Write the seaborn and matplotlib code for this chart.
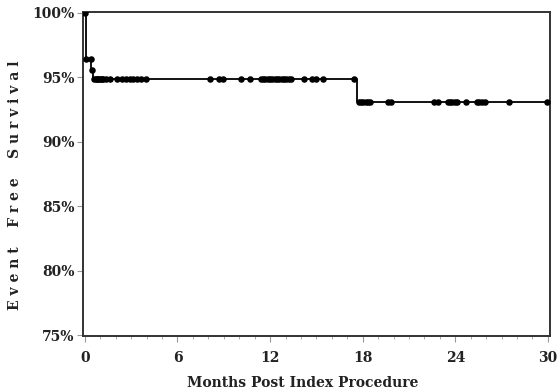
import numpy as np
import pandas as pd
import matplotlib
matplotlib.use("Agg")
import matplotlib.pyplot as plt
import seaborn as sns
from matplotlib.ticker import MultipleLocator, FuncFormatter

# Kaplan-Meier step curve (months, % event free)
step_times = [0.0, 0.05, 0.42, 0.55, 17.6, 30.0]
step_surv = [100.0, 96.4, 95.6, 94.9, 93.1, 93.1]

# Censored observations (months)
censor_times = [0.0, 0.05, 0.38, 0.48, 0.62, 0.7, 0.78, 0.86, 0.94, 1.02, 1.1,
                1.2, 1.35, 1.6, 2.1, 2.4, 2.65, 2.9, 3.15, 3.4, 3.65, 3.95,
                8.1, 8.7, 8.95, 10.1, 10.7, 11.4, 11.55, 11.7, 11.85, 12.0,
                12.15, 12.3, 12.45, 12.6, 12.75, 12.9, 13.05, 13.2, 13.35,
                14.2, 14.7, 14.95, 15.4, 17.45, 17.75, 17.9, 18.05, 18.2,
                18.35, 18.5, 19.65, 19.85, 22.6, 22.9, 23.5, 23.65, 23.8,
                23.95, 24.1, 24.7, 25.4, 25.55, 25.75, 25.9, 27.5, 29.95]

x_ticks = [0, 6, 12, 18, 24, 30]
y_ticks = [75, 80, 85, 90, 95, 100]

curve = pd.DataFrame({"t": step_times, "s": step_surv})
idx = np.searchsorted(step_times, censor_times, side="right") - 1
cens = pd.DataFrame({"t": censor_times, "s": np.array(step_surv)[idx]})

sns.set_style("ticks")
plt.rcParams["font.family"] = ["DejaVu Serif"]

fig = plt.figure(figsize=(5.59, 3.92), dpi=100)
ax = fig.add_axes([0.1485, 0.143, 0.835, 0.826])

sns.lineplot(data=curve, x="t", y="s", drawstyle="steps-post", color="black",
             lw=1.3, ax=ax, estimator=None)
sns.scatterplot(data=cens, x="t", y="s", color="black", s=22, marker="o",
                edgecolor="black", linewidth=0, ax=ax, zorder=3)

ax.set_xlim(-0.12, 30.12)
ax.set_ylim(74.95, 100.05)
ax.set_xticks(x_ticks)
ax.set_yticks(y_ticks)
ax.xaxis.set_minor_locator(MultipleLocator(1))
ax.yaxis.set_major_formatter(FuncFormatter(lambda v, p: f"{int(v)}%"))

for side in ["top", "right", "bottom", "left"]:
    ax.spines[side].set_visible(True)
    ax.spines[side].set_color("#333333")
    ax.spines[side].set_linewidth(1.4)

ax.tick_params(axis="y", which="major", length=4, width=0.8, color="#999999",
               labelsize=10, pad=2)
ax.tick_params(axis="x", which="major", length=4, width=0.8, color="#999999",
               labelsize=10, pad=7)
ax.tick_params(axis="x", which="minor", length=2.5, width=0.7, color="#aaaaaa")
for lab in ax.get_xticklabels() + ax.get_yticklabels():
    lab.set_fontweight("bold")
    lab.set_color("#222222")

ax.set_xlabel("Months Post Index Procedure", fontsize=10, fontweight="bold",
              color="#222222")
ax.xaxis.set_label_coords(0.47, -0.125)
ax.set_ylabel("E v e n t    F r e e    S u r v i v a l", fontsize=10,
              fontweight="bold", color="#222222")
ax.yaxis.set_label_coords(-0.13, 0.466)

fig.savefig("out.png", dpi=100)
